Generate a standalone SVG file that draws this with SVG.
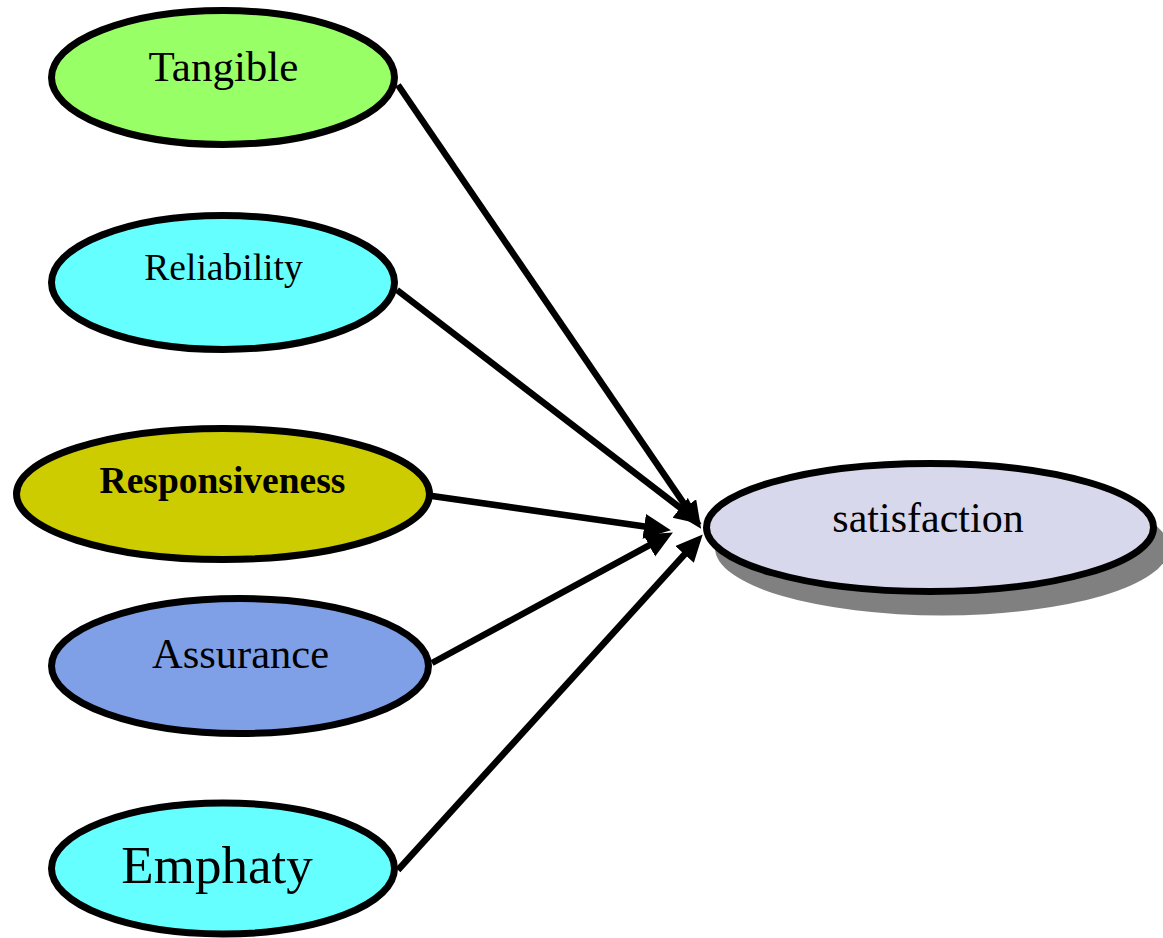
<svg xmlns="http://www.w3.org/2000/svg" width="1163" height="938" viewBox="0 0 1163 938">
<style>
.node ellipse{stroke:#000;stroke-width:7}
.lbl{font-family:"Liberation Serif","Times New Roman",serif;fill:#000;text-anchor:middle}
.conn{stroke:#000;stroke-width:6.5;fill:none;marker-end:url(#arr)}
</style>
<defs>
<marker id="arr" markerUnits="userSpaceOnUse" markerWidth="30" markerHeight="28" refX="13" refY="12.5" orient="auto">
<path d="M0,0 L27,12.5 L0,25 z" fill="#000"/>
</marker>
</defs>
<rect width="1163" height="938" fill="#fff"/>
<g id="connectors">
<line class="conn" x1="398" y1="85" x2="693.2" y2="517.1"/>
<line class="conn" x1="397" y1="290" x2="690.5" y2="515.7"/>
<line class="conn" x1="432" y1="496" x2="657.1" y2="528.2"/>
<line class="conn" x1="432" y1="663" x2="660.6" y2="539.2"/>
<line class="conn" x1="398" y1="870" x2="693.3" y2="544.8"/>
</g>
<g id="tangible" class="node">
<ellipse cx="223" cy="77.5" rx="171.5" ry="67" fill="#99FF66"/>
<text class="lbl" x="223.5" y="81" font-size="43">Tangible</text>
</g>
<g id="reliability" class="node">
<ellipse cx="223" cy="282.5" rx="171.5" ry="67" fill="#66FFFF"/>
<text class="lbl" x="223.5" y="280" font-size="37.5">Reliability</text>
</g>
<g id="responsiveness" class="node">
<ellipse cx="223" cy="494" rx="206.5" ry="65.5" fill="#CCCC00"/>
<text class="lbl" x="222.5" y="493" font-size="37.5" font-weight="bold">Responsiveness</text>
</g>
<g id="assurance" class="node">
<ellipse cx="240" cy="666" rx="188.5" ry="67.5" fill="#7F9FE6"/>
<text class="lbl" x="240.5" y="668" font-size="42.5">Assurance</text>
</g>
<g id="emphaty" class="node">
<ellipse cx="223" cy="868.5" rx="171.5" ry="65.5" fill="#66FFFF"/>
<text class="lbl" x="217" y="883" font-size="53">Emphaty</text>
</g>
<g id="satisfaction" class="node">
<ellipse cx="942" cy="548" rx="227" ry="67.5" fill="#808080" style="stroke:none"/>
<ellipse cx="930" cy="527.5" rx="223.5" ry="64" fill="#D8D8EC"/>
<text class="lbl" x="928" y="532" font-size="42">satisfaction</text>
</g>
</svg>
